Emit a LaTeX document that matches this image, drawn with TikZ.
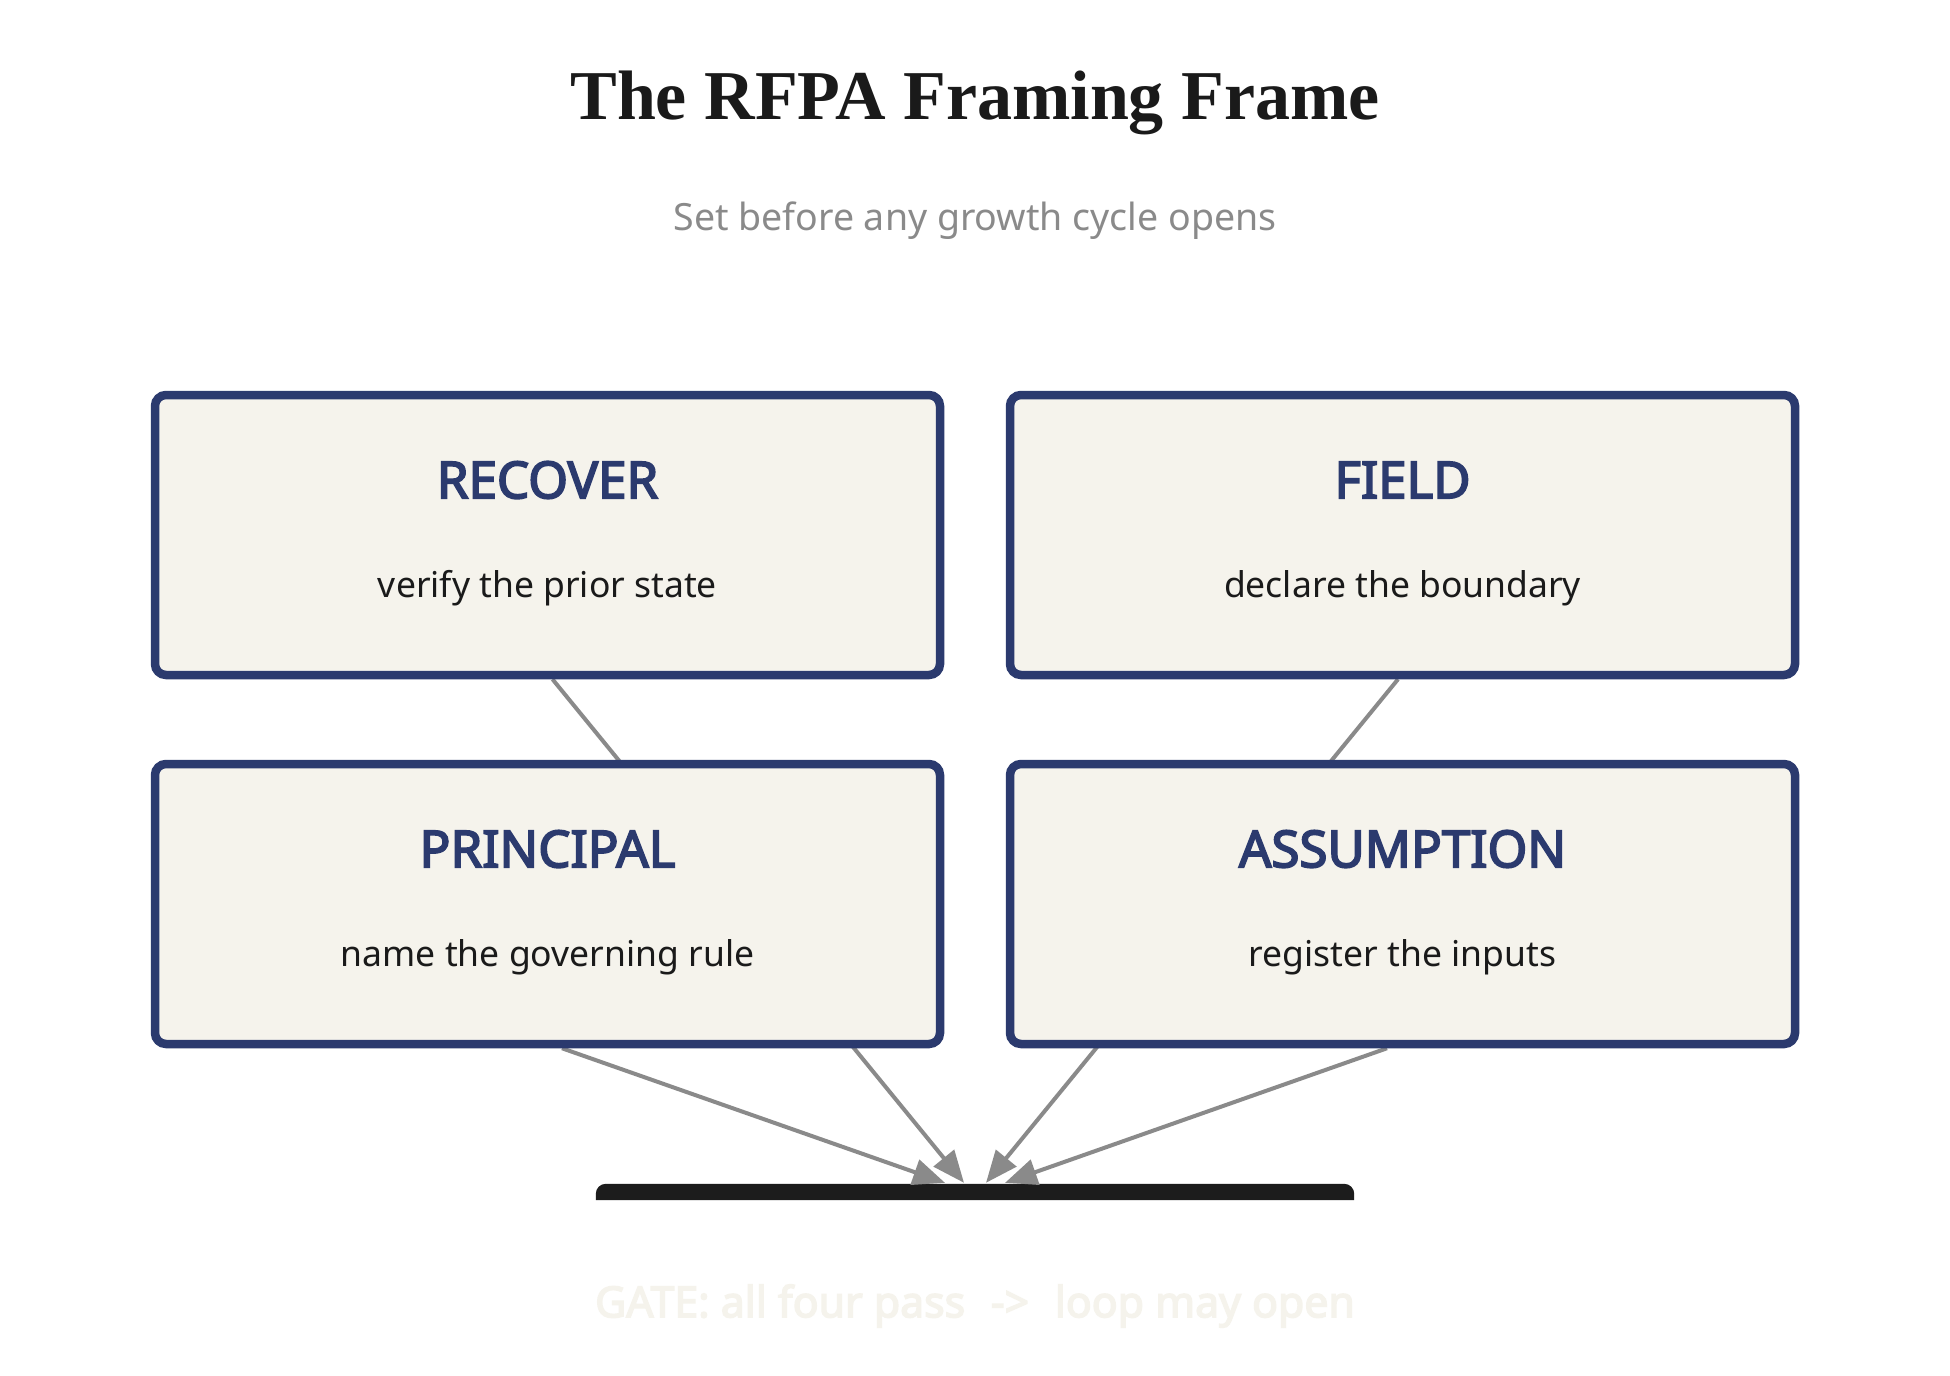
\documentclass[tikz,border=0pt]{standalone}
\usepackage{fontspec}
\setmainfont{Noto Sans}
\newfontfamily\headfont{Noto Sans}[FakeBold=3.4]
\newfontfamily\titlefont{Liberation Serif}
\usetikzlibrary{arrows.meta,calc}
\definecolor{navy}{HTML}{2B3A6E}
\definecolor{cream}{HTML}{F5F3EC}
\definecolor{ink}{HTML}{1A1A1A}
\definecolor{subgray}{HTML}{8A8A8A}
\definecolor{linegray}{HTML}{8A8A8A}
\definecolor{gateblack}{HTML}{1C1C1C}
\tikzset{
  stagebox/.style={draw=navy, fill=cream, line width=8.5pt, rounded corners=11pt,
    minimum width=785pt, minimum height=280pt, inner sep=0pt},
  stagetitle/.style={text=navy, font=\headfont\fontsize{51}{60}\selectfont, inner sep=0pt},
  stagesub/.style={text=ink, font=\fontsize{35.5}{42}\selectfont, inner sep=0pt},
  link/.style={draw=linegray, line width=4pt, -{Triangle[length=32pt,width=26pt]}},
  gatebar/.style={minimum width=758pt, minimum height=16pt, inner sep=0pt},
}
\begin{document}
\begin{tikzpicture}[x=1pt,y=-1pt]
\useasboundingbox[fill=white] (0,0) rectangle (1950,1375);

\node[text=ink, font=\titlefont\fontsize{70}{80}\selectfont\bfseries, inner sep=0pt] (title) at (975,103) {The RFPA Framing Frame};
\node[text=subgray, font=\fontsize{37.5}{44}\selectfont, inner sep=0pt] (subtitle) at (975,221) {Set before any growth cycle opens};

% gate
\node[gatebar] (gate) at (975,1192) {};
\fill[gateblack] (gate.south west) [rounded corners=10pt] -- (gate.north west) -- (gate.north east) [sharp corners] -- (gate.south east) -- cycle;
\node[text=cream, font=\headfont\fontsize{42.8}{50}\selectfont, inner sep=0pt] (gatetext) at (975,1306) {GATE: all four pass\hspace{0.6em}->\hspace{0.6em}loop may open};

% coordinates of box positions
\coordinate (pR) at (547.5,535);
\coordinate (pF) at (1402.5,535);
\coordinate (pP) at (547.5,904);
\coordinate (pA) at (1402.5,904);

% invisible anchors for connector starts (box geometry)
\node[stagebox, draw=none, fill=none] (recover) at (pR) {};
\node[stagebox, draw=none, fill=none] (field) at (pF) {};
\node[stagebox, draw=none, fill=none] (principal) at (pP) {};
\node[stagebox, draw=none, fill=none] (assumption) at (pA) {};

% connectors (behind boxes)
\draw[link] ($(recover.south)+(5,0)$) -- ($(gate.north)+(-11,-1)$);
\draw[link] ($(field.south)+(-4.5,0)$) -- ($(gate.north)+(11,-1)$);
\draw[link] ($(principal.south)+(14.5,0)$) -- ($(gate.north)+(-30,-1)$);
\draw[link] ($(assumption.south)+(-15.5,0)$) -- ($(gate.north)+(30,-1)$);

% boxes
\node[stagebox] (recoverbox) at (pR) {};
\node[stagebox] (fieldbox) at (pF) {};
\node[stagebox] (principalbox) at (pP) {};
\node[stagebox] (assumptionbox) at (pA) {};

\node[stagetitle] (t1) at ($(recoverbox.center)+(0,-55)$) {RECOVER};
\node[stagesub] (s1) at ($(recoverbox.center)+(0,53)$) {verify the prior state};
\node[stagetitle] (t2) at ($(fieldbox.center)+(0,-55)$) {FIELD};
\node[stagesub] (s2) at ($(fieldbox.center)+(0,53)$) {declare the boundary};
\node[stagetitle] (t3) at ($(principalbox.center)+(0,-55)$) {PRINCIPAL};
\node[stagesub] (s3) at ($(principalbox.center)+(0,53)$) {name the governing rule};
\node[stagetitle] (t4) at ($(assumptionbox.center)+(0,-55)$) {ASSUMPTION};
\node[stagesub] (s4) at ($(assumptionbox.center)+(0,53)$) {register the inputs};
\end{tikzpicture}
\end{document}
